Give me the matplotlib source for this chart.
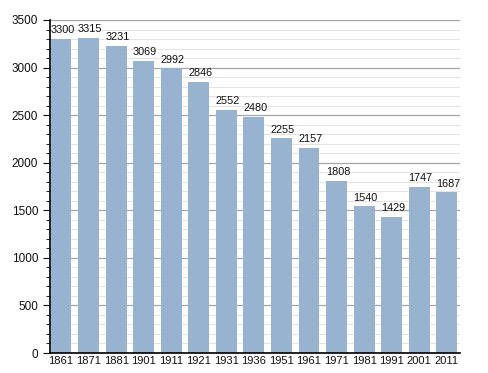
import matplotlib.pyplot as plt
from matplotlib.ticker import MultipleLocator

years = ["1861", "1871", "1881", "1901", "1911", "1921", "1931", "1936",
         "1951", "1961", "1971", "1981", "1991", "2001", "2011"]
population = [3300, 3315, 3231, 3069, 2992, 2846, 2552, 2480,
              2255, 2157, 1808, 1540, 1429, 1747, 1687]

plt.rcParams["font.family"] = ["Liberation Sans", "DejaVu Sans"]

fig = plt.figure(figsize=(4.88, 3.73), dpi=100)
ax = fig.add_axes([50 / 488, 20 / 373, 410 / 488, 333 / 373])

x = range(len(years))
ax.bar(x, population, width=0.76, color="#98b3cf", zorder=2)

for xi, v in zip(x, population):
    ax.text(xi + 0.05, v + 40, str(v), ha="center", va="bottom", fontsize=7.8, color="#111111")

ax.set_xlim(-0.4, len(years) - 0.52)
ax.set_ylim(0, 3500)
ax.set_xticks(list(x))
ax.set_xticklabels(years)
ax.yaxis.set_major_locator(MultipleLocator(500))
ax.yaxis.set_minor_locator(MultipleLocator(100))
ax.grid(axis="y", which="major", color="#a6a6a6", linewidth=0.9, zorder=0)
ax.grid(axis="y", which="minor", color="#e3e3e3", linewidth=0.7, zorder=0)

for s in ["top", "right"]:
    ax.spines[s].set_visible(False)
ax.spines["left"].set_linewidth(1.2)
ax.spines["bottom"].set_linewidth(1.2)
ax.tick_params(axis="y", which="major", length=5, labelsize=8.5, colors="#111111")
ax.tick_params(axis="y", which="minor", length=3)
ax.tick_params(axis="x", length=0, labelsize=8, pad=2, colors="#111111")

fig.savefig("out.png", dpi=100)
